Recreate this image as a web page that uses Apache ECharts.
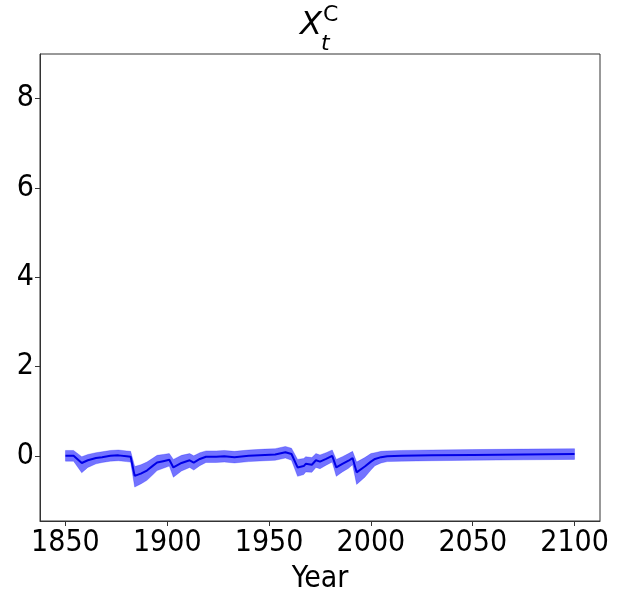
<!DOCTYPE html>
<html>
<head>
<meta charset="utf-8">
<script src="https://cdn.jsdelivr.net/npm/echarts@6/dist/echarts.min.js"></script>
<style>
  html, body { margin: 0; padding: 0; background: #fff; }
  #chart { width: 618px; height: 594px; }
</style>
</head>
<body>
<div id="chart"></div>
<script>
// values
const years = [1850, 1854, 1858, 1861, 1865, 1868, 1872, 1876, 1880, 1882,
  1884, 1887, 1890, 1893, 1895, 1898, 1901, 1903, 1907, 1911,
  1913, 1916, 1919, 1924, 1928, 1933, 1940, 1948, 1953, 1958,
  1961, 1964, 1967, 1968, 1971, 1973, 1975, 1978, 1981, 1983,
  1986, 1989, 1991, 1993, 1997, 2000, 2002, 2005, 2008, 2015,
  2030, 2050, 2075, 2100];
const mean = [0.0, 0.0, -0.16, -0.10, -0.05, -0.03, 0.0, 0.01, -0.01, -0.02,
  -0.45, -0.40, -0.33, -0.22, -0.15, -0.12, -0.09, -0.26, -0.16, -0.10,
  -0.15, -0.07, -0.02, -0.02, -0.01, -0.03, 0.0, 0.02, 0.03, 0.08,
  0.04, -0.26, -0.23, -0.18, -0.20, -0.10, -0.13, -0.07, 0.0, -0.26,
  -0.18, -0.11, -0.05, -0.37, -0.24, -0.13, -0.07, -0.03, -0.01, 0.0,
  0.01, 0.02, 0.03, 0.04];
const lower = [-0.12, -0.12, -0.38, -0.26, -0.18, -0.15, -0.12, -0.11, -0.13, -0.14,
  -0.70, -0.63, -0.55, -0.42, -0.33, -0.28, -0.23, -0.48, -0.34, -0.26,
  -0.32, -0.22, -0.15, -0.15, -0.14, -0.16, -0.13, -0.11, -0.10, -0.05,
  -0.10, -0.46, -0.42, -0.36, -0.37, -0.26, -0.29, -0.21, -0.14, -0.46,
  -0.36, -0.28, -0.20, -0.64, -0.48, -0.32, -0.22, -0.16, -0.13, -0.12,
  -0.11, -0.10, -0.09, -0.08];
const upper = [0.12, 0.12, -0.02, 0.03, 0.07, 0.09, 0.12, 0.13, 0.11, 0.10,
  -0.24, -0.20, -0.14, -0.05, 0.01, 0.03, 0.05, -0.08, 0.01, 0.05,
  0.00, 0.07, 0.11, 0.11, 0.12, 0.10, 0.13, 0.15, 0.16, 0.21,
  0.17, -0.08, -0.06, -0.02, -0.04, 0.05, 0.02, 0.07, 0.13, -0.08,
  -0.02, 0.05, 0.10, -0.14, -0.04, 0.05, 0.07, 0.10, 0.11, 0.12,
  0.13, 0.14, 0.15, 0.16];
const xTicks = [1850, 1900, 1950, 2000, 2050, 2100];
const yTicks = [0, 2, 4, 6, 8];

const chart = echarts.init(document.getElementById('chart'));

const font = '"DejaVu Sans Condensed", "DejaVu Sans"';
const axisCol = '#333';

// band polygon: upper edge forward, lower edge back
const bandData = years.map((y, i) => [y, lower[i], upper[i]]);

const option = {
  animation: false,
  grid: {
    left: 40, right: 18, top: 54, bottom: 73,
    outerBoundsMode: 'none',
    containLabel: false,
    show: true, borderColor: axisCol, borderWidth: 1
  },
  graphic: [
    { type: 'text', left: 300, top: 10,
      style: { text: 'X', font: 'italic 32px "DejaVu Sans"', fill: '#000' } },
    { type: 'text', left: 321, top: 33,
      style: { text: 't', font: 'italic 22px "DejaVu Sans"', fill: '#000' } },
    { type: 'text', left: 323, top: 4,
      style: { text: 'C', font: '22px "DejaVu Sans"', fill: '#000' } }
  ],
  xAxis: {
    type: 'value',
    min: 1837.5,
    max: 2112.5,
    name: 'Year',
    nameLocation: 'middle',
    nameGap: 43,
    nameTextStyle: { fontFamily: font, fontSize: 30, color: '#000' },
    axisLine: { show: true, onZero: false, lineStyle: { color: axisCol } },
    axisTick: { show: true, length: 5, lineStyle: { color: axisCol }, customValues: xTicks },
    axisLabel: { fontFamily: font, fontSize: 30, color: '#000', margin: 7,
      customValues: xTicks, formatter: v => String(v) },
    splitLine: { show: false }
  },
  yAxis: {
    type: 'value',
    min: -1.46,
    max: 9,
    axisLine: { show: true, onZero: false, lineStyle: { color: axisCol } },
    axisTick: { show: true, length: 5, lineStyle: { color: axisCol }, customValues: yTicks },
    axisLabel: { fontFamily: font, fontSize: 30, color: '#000', margin: 6,
      customValues: yTicks, formatter: v => String(v) },
    splitLine: { show: false }
  },
  series: [
    {
      type: 'custom',
      data: bandData,
      silent: true,
      clip: true,
      renderItem: function (params, api) {
        if (params.dataIndex !== 0) return null;
        const pts = [];
        for (let i = 0; i < bandData.length; i++) pts.push(api.coord([bandData[i][0], bandData[i][2]]));
        for (let i = bandData.length - 1; i >= 0; i--) pts.push(api.coord([bandData[i][0], bandData[i][1]]));
        return {
          type: 'polygon',
          shape: { points: pts },
          style: { fill: 'rgba(0,0,255,0.55)', stroke: 'rgba(0,0,255,0.25)', lineWidth: 1 }
        };
      }
    },
    {
      type: 'line',
      data: years.map((y, i) => [y, mean[i]]),
      symbol: 'none',
      lineStyle: { color: '#0000e6', width: 2 },
      silent: true
    }
  ]
};

chart.setOption(option);
</script>
</body>
</html>
